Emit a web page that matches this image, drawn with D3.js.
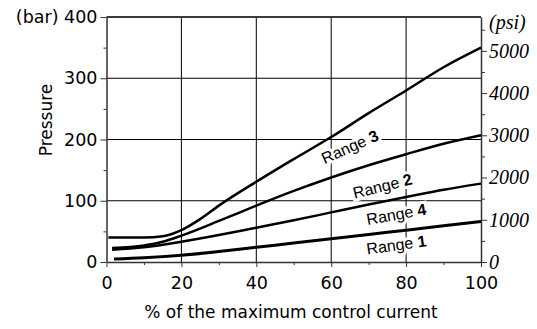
<!DOCTYPE html>
<html><head><meta charset="utf-8">
<script src="https://cdn.jsdelivr.net/npm/d3@7"></script>
<style>
body{margin:0;background:#fff;}
svg{display:block;}
</style></head>
<body><svg id="c" width="537" height="329"></svg>
<script>
// ---- data ----
const range3X = [0.5, 5, 10, 15, 20, 25, 30, 40, 50, 60, 70, 80, 90, 100];
const range3Y = [40, 40, 40, 42, 52, 70, 92, 131, 168, 204, 243, 280, 318, 350];
const range2X = [1.5, 10, 15, 20, 30, 40, 50, 60, 70, 80, 90, 100];
const range2Y = [23, 27, 33, 43, 67, 92, 116, 138, 158, 176, 193, 207];
const range4X = [1.5, 10, 20, 30, 40, 50, 60, 70, 80, 90, 100];
const range4Y = [20, 24, 33, 44, 56, 68, 81, 94, 106, 118, 128];
const range1X = [2, 10, 20, 30, 40, 50, 60, 70, 80, 90, 100];
const range1Y = [5, 7, 11, 17, 24, 31, 38, 45, 52, 59, 66];
const seriesNames = ["3", "2", "4", "1"];
const labelX = [65, 73.7, 77.4, 77.4];
const labelY = [188, 124, 78, 28];
const labelAngle = [-24, -14, -10, -8];
const xTicks = [0, 20, 40, 60, 80, 100];
const xMinor = [10, 30, 50, 70, 90];
const yTicks = [0, 100, 200, 300, 400];
const yMinor = [50, 150, 250, 350];
const psiTicks = [0, 1000, 2000, 3000, 4000, 5000];
const psiMinor = [500, 1500, 2500, 3500, 4500, 5500];
const BAR_TO_PSI = 14.5038;

const svg = d3.select("#c");
const x = d3.scaleLinear().domain([0, 100]).range([106.5, 481]);
const y = d3.scaleLinear().domain([0, 400]).range([262, 17]);
const yPsi = d3.scaleLinear().domain([0, 400 * BAR_TO_PSI]).range([262, 17]);

// grid
const g = svg.append("g");
g.selectAll("line.v").data(xTicks.slice(1, -1)).join("line")
  .attr("x1", d => x(d)).attr("x2", d => x(d)).attr("y1", y(0)).attr("y2", y(400))
  .attr("stroke", "#000").attr("stroke-width", 1);
g.selectAll("line.h").data([100, 200, 300]).join("line")
  .attr("x1", x(0)).attr("x2", x(100)).attr("y1", d => y(d)).attr("y2", d => y(d))
  .attr("stroke", "#000").attr("stroke-width", 1);
g.append("line").attr("x1", x(0)).attr("x2", x(100)).attr("y1", y(400)).attr("y2", y(400))
  .attr("stroke", "#3a3a3a").attr("stroke-width", 2);

// axes
const sans = "'DejaVu Sans', Verdana, sans-serif";
function styleAxis(sel) {
  sel.select(".domain").attr("stroke", "#333").attr("stroke-width", 1.5);
  sel.selectAll(".tick line").attr("stroke", "#333").attr("stroke-width", 1);
}
const left = svg.append("g").attr("transform", `translate(${x(0)},0)`)
  .call(d3.axisLeft(y).tickValues(yTicks).tickSize(6).tickPadding(3).tickSizeOuter(0))
  .call(styleAxis);
left.selectAll("text").attr("font-family", sans).attr("font-size", 17.5).attr("fill", "#000")
  .text(d => d === 400 ? "(bar) 400" : d);
svg.append("g").attr("transform", `translate(${x(0)},0)`)
  .call(d3.axisLeft(y).tickValues(yMinor).tickSize(3).tickFormat("").tickSizeOuter(0))
  .call(styleAxis).select(".domain").remove();

const bottom = svg.append("g").attr("transform", `translate(0,${y(0)})`)
  .call(d3.axisBottom(x).tickValues(xTicks).tickSize(5).tickPadding(10).tickSizeOuter(0))
  .call(styleAxis);
bottom.selectAll("text").attr("font-family", sans).attr("font-size", 17.5).attr("fill", "#000");
svg.append("g").attr("transform", `translate(0,${y(0)})`)
  .call(d3.axisBottom(x).tickValues(xMinor).tickSize(3).tickFormat("").tickSizeOuter(0))
  .call(styleAxis).select(".domain").remove();

const serif = "'Liberation Serif', 'Times New Roman', serif";
const right = svg.append("g").attr("transform", `translate(${x(100)},0)`)
  .call(d3.axisRight(yPsi).tickValues(psiTicks).tickFormat(d3.format("d")).tickSize(6).tickPadding(2).tickSizeOuter(0))
  .call(styleAxis);
right.selectAll("text").attr("font-family", serif).attr("font-style", "italic")
  .attr("font-size", 20).attr("fill", "#000");
svg.append("g").attr("transform", `translate(${x(100)},0)`)
  .call(d3.axisRight(yPsi).tickValues(psiMinor).tickSize(4).tickFormat("").tickSizeOuter(0))
  .call(styleAxis).select(".domain").remove();
svg.append("text").attr("x", x(100) + 8).attr("y", y(400) + 12)
  .attr("font-family", serif).attr("font-style", "italic").attr("font-size", 20).text("(psi)");

// titles
svg.append("text").attr("transform", `translate(52,120) rotate(-90)`)
  .attr("text-anchor", "middle").attr("font-family", sans).attr("font-size", 17).text("Pressure");
svg.append("text").attr("x", 291).attr("y", 318).attr("text-anchor", "middle")
  .attr("font-family", sans).attr("font-size", 17).text("% of the maximum control current");

// curves
const line = d3.line().x(d => x(d[0])).y(d => y(d[1])).curve(d3.curveMonotoneX);
const series = [
  [range3X, range3Y, 2.5],
  [range2X, range2Y, 2.5],
  [range4X, range4Y, 2.5],
  [range1X, range1Y, 3]
];
series.forEach(([xs, ys, w]) => {
  svg.append("path").datum(xs.map((v, i) => [v, ys[i]]))
    .attr("d", line).attr("fill", "none").attr("stroke", "#000").attr("stroke-width", w);
});

// labels
seriesNames.forEach((n, i) => {
  const t = svg.append("text")
    .attr("transform", `translate(${x(labelX[i])},${y(labelY[i])}) rotate(${labelAngle[i]})`)
    .attr("text-anchor", "middle").attr("dy", "0.35em")
    .attr("font-family", "'Liberation Sans', Arial, sans-serif").attr("font-size", 16)
    .attr("stroke", "#fff").attr("stroke-width", 6).attr("paint-order", "stroke").attr("fill", "#000");
  t.append("tspan").text("Range ");
  t.append("tspan").attr("font-weight", "bold").text(n);
});
</script>
</body></html>
